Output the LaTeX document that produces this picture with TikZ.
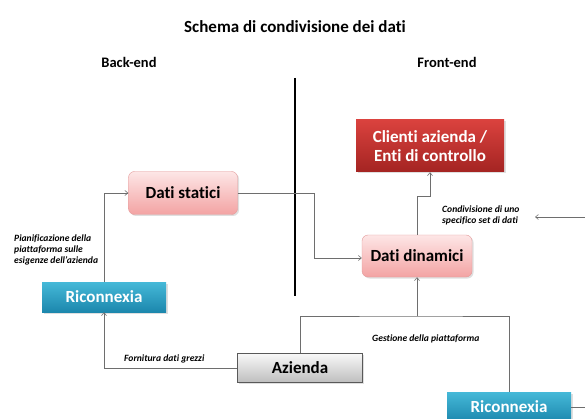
\documentclass[tikz,border=0pt]{standalone}
\usepackage{fontspec}
\setmainfont[Ligatures=NoCommon]{Carlito}
\usepackage{tikz}
\usetikzlibrary{arrows.meta,positioning,shadows}
\definecolor{wire}{HTML}{6E6E6E}
\definecolor{pinktop}{HTML}{FDE6E6}
\definecolor{pinkbot}{HTML}{F3A3A3}
\definecolor{pinkline}{HTML}{E39A9A}
\definecolor{redtop}{HTML}{DA423E}
\definecolor{redbot}{HTML}{A42422}
\definecolor{tealtop}{HTML}{45B9D8}
\definecolor{tealbot}{HTML}{1C87AD}
\definecolor{greytop}{HTML}{F8F8F8}
\definecolor{greybot}{HTML}{BEBEBE}

\begin{document}
\begin{tikzpicture}[x=1pt,y=-1pt,
 box/.style={align=center,font=\fontsize{17}{19}\selectfont\bfseries,inner sep=0pt,
             drop shadow={shadow xshift=1.5pt,shadow yshift=-1.5pt,opacity=.25}},
 datum/.style={box,draw=pinkline,rounded corners=6pt,top color=pinktop,bottom color=pinkbot},
 client/.style={box,top color=redtop,bottom color=redbot,text=white},
 partner/.style={box,top color=tealtop,bottom color=tealbot,text=white,
                 minimum width=124pt,minimum height=30pt},
 firm/.style={box,draw=black!65,top color=greytop,bottom color=greybot,
              minimum width=125pt,minimum height=29pt},
 note/.style={font=\fontsize{9.6}{10.8}\selectfont\bfseries\itshape,align=left,
              inner sep=0pt,anchor=west},
 head/.style={font=\fontsize{14.5}{17}\selectfont\bfseries},
 arrow/.style={-{Straight Barb[length=3pt,width=5pt]},draw=wire,semithick},
 wire/.style={draw=wire,semithick}]
\useasboundingbox (0,0) rectangle (585,419);
\node[font=\fontsize{17}{20}\selectfont\bfseries] (title) at (295,27) {Schema di condivisione dei dati};
\node[head] (back) at (129,62) {Back-end};
\node[head] (front) at (447,62) {Front-end};
\coordinate (divtop) at (295,78);
\coordinate (divbot) at (295,296);
\draw[line width=2.6pt] (divtop) -- (divbot);
\node[client,minimum width=148pt,minimum height=52pt] (clienti) at (430,146) {Clienti azienda /\\Enti di controllo};
\node[datum,minimum width=109pt,minimum height=43pt] (statici) at (183,193) {Dati statici};
\node[datum,minimum width=110pt,minimum height=42pt] (dinamici) at (417,256) {Dati dinamici};
\node[partner] (riconL) at (104,297) {Riconnexia};
\node[firm] (azienda) at (300,368) {Azienda};
\node[partner] (riconR) at (509,407) {Riconnexia};
\coordinate (hub) at (417,316);
\coordinate (edgeR) at (585,407);
\coordinate (inR) at (585,217);
\coordinate (inTip) at (535,217);
\node[note] (plan) at (14,250) {Pianificazione della\\piattaforma sulle\\esigenze dell'azienda};
\node[note] (share) at (442,215) {Condivisione di uno\\specifico set di dati};
\node[note] (supply) at (124,359) {Fornitura dati grezzi};
\node[note] (manage) at (372,339) {Gestione della piattaforma};
\draw[arrow] (riconL.north) |- (statici.west);
\draw[arrow] (statici.east) -| ([xshift=-48pt,yshift=-2pt]dinamici.west) -- ([yshift=-2pt]dinamici.west);
\draw[arrow] (dinamici.north) -- ++(0,-38) -| (clienti.south);
\draw[arrow] (azienda.west) -| (riconL.south);
\draw[wire] (azienda.north) |- (hub) -| (riconR.north);
\draw[arrow] (hub) -- (dinamici.south);
\draw[wire] (riconR.east) -- (edgeR);
\draw[arrow] (inR) -- (inTip);
\end{tikzpicture}
\end{document}
